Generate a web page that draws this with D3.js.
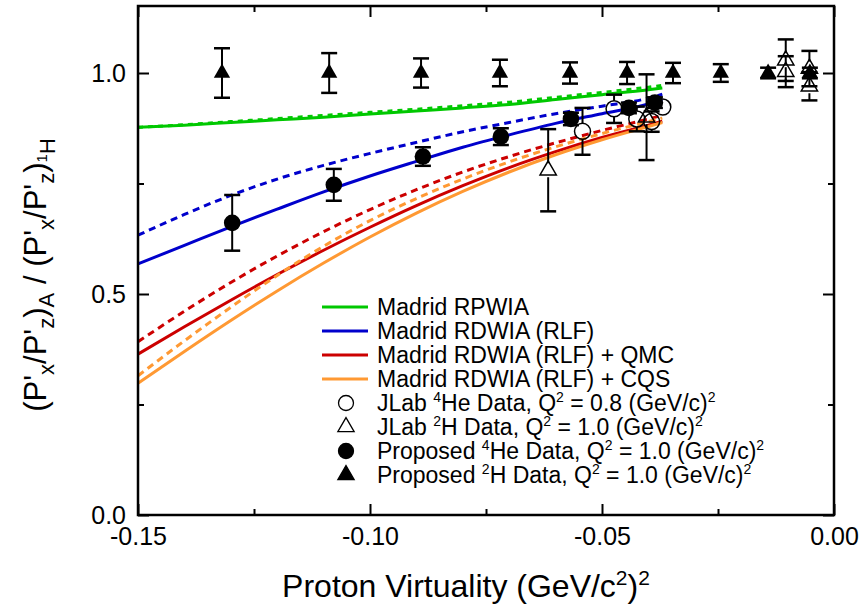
<!DOCTYPE html>
<html>
<head>
<meta charset="utf-8">
<script src="https://cdn.jsdelivr.net/npm/d3@7"></script>
<style>
  body { margin: 0; background: #fff; }
  text { font-family: "Liberation Sans", Arial, sans-serif; fill: #000; }
</style>
</head>
<body>
<svg id="chart" width="866" height="607"></svg>
<script>
// axis ticks
const xMajor = [-0.15, -0.10, -0.05, 0.00];
const xMinor = [-0.125, -0.075, -0.025];
const yMajor = [0.0, 0.5, 1.0];
const yMinor = [0.25, 0.75];

// model curves (shared x grid)
const curveX =       [-0.15, -0.14, -0.13, -0.12, -0.11, -0.10, -0.09, -0.08, -0.07, -0.06, -0.05, -0.04, -0.037];
const greenSolid =   [0.877, 0.882, 0.888, 0.894, 0.900, 0.907, 0.914, 0.921, 0.929, 0.940, 0.951, 0.962, 0.966];
const greenDashed =  [0.877, 0.883, 0.890, 0.897, 0.904, 0.911, 0.918, 0.926, 0.934, 0.945, 0.956, 0.968, 0.972];
const blueSolid =    [0.568, 0.610, 0.652, 0.692, 0.731, 0.767, 0.800, 0.832, 0.860, 0.886, 0.908, 0.930, 0.940];
const blueDashed =   [0.633, 0.680, 0.723, 0.760, 0.791, 0.818, 0.843, 0.867, 0.888, 0.908, 0.925, 0.943, 0.952];
const redSolid =     [0.364, 0.426, 0.486, 0.544, 0.599, 0.651, 0.700, 0.745, 0.786, 0.822, 0.854, 0.882, 0.891];
const redDashed =    [0.392, 0.461, 0.526, 0.586, 0.641, 0.691, 0.736, 0.776, 0.811, 0.842, 0.870, 0.896, 0.904];
const orangeSolid =  [0.298, 0.370, 0.440, 0.507, 0.570, 0.629, 0.683, 0.732, 0.776, 0.815, 0.849, 0.879, 0.888];
const orangeDashed = [0.315, 0.394, 0.470, 0.542, 0.608, 0.666, 0.716, 0.760, 0.799, 0.833, 0.863, 0.890, 0.898];

// JLab 4He (open circles)
const jlabHeX =   [-0.0542, -0.0474, -0.0425, -0.0393, -0.0369];
const jlabHeY =   [0.868, 0.919, 0.896, 0.890, 0.923];
const jlabHeErr = [0.053, 0.032, 0.028, 0.023, 0.018];

// JLab 2H (open triangles)
const jlabHX =   [-0.0616, -0.0404, -0.0104, -0.0104, -0.0053, -0.0053];
const jlabHY =   [0.780, 0.900, 1.029, 1.003, 1.010, 0.970];
const jlabHErr = [0.093, 0.097, 0.047, 0.035, 0.040, 0.032];

// proposed 4He (filled circles)
const propHeX =   [-0.1297, -0.1078, -0.0886, -0.0718, -0.0567, -0.0442, -0.0386];
const propHeY =   [0.661, 0.747, 0.811, 0.856, 0.896, 0.921, 0.933];
const propHeErr = [0.063, 0.036, 0.021, 0.019, 0.014, 0.012, 0.012];

// proposed 2H (filled triangles)
const propHX =   [-0.1319, -0.1088, -0.0890, -0.0720, -0.0569, -0.0446, -0.0347, -0.0244, -0.0142, -0.0052];
const propHY =   [1.0, 1.0, 1.0, 1.0, 1.0, 1.0, 1.0, 1.0, 1.0, 1.0];
const propHErr = [0.056, 0.045, 0.033, 0.030, 0.024, 0.025, 0.023, 0.020, 0.012, 0.012];

const legendNames = [
  "Madrid RPWIA",
  "Madrid RDWIA (RLF)",
  "Madrid RDWIA (RLF) + QMC",
  "Madrid RDWIA (RLF) + CQS"
];

// layout
const plotLeft = 138, plotRight = 834, plotTop = 6, plotBottom = 515;
const svg = d3.select("#chart");

const x = d3.scaleLinear().domain([-0.15, 0.0]).range([plotLeft, plotRight]);
const y = d3.scaleLinear().domain([0.0, 1.15]).range([plotBottom, plotBottom - 1.15 * 442]);

const green = "#00c800", blue = "#0000cc", red = "#cc0000", orange = "#ff9933";

// curves
const line = d3.line()
  .x(d => x(d[0]))
  .y(d => y(d[1]))
  .curve(d3.curveMonotoneX);

const curves = [
  { v: redSolid, c: red, dash: null },
  { v: redDashed, c: red, dash: "7,5" },
  { v: orangeDashed, c: orange, dash: "7,5" },
  { v: orangeSolid, c: orange, dash: null },
  { v: blueSolid, c: blue, dash: null },
  { v: blueDashed, c: blue, dash: "7,5" },
  { v: greenSolid, c: green, dash: null },
  { v: greenDashed, c: green, dash: "5,5" }
];

curves.forEach(function(cv) {
  svg.append("path")
    .datum(curveX.map((v, i) => [v, cv.v[i]]))
    .attr("d", line)
    .attr("fill", "none")
    .attr("stroke", cv.c)
    .attr("stroke-width", 3)
    .attr("stroke-dasharray", cv.dash);
});

// error bars, gap around the marker
function errorBars(xs, ys, es, r) {
  const g = svg.append("g").attr("stroke", "#000").attr("stroke-width", 2);
  xs.forEach(function(xv, i) {
    const cx = x(xv), cy = y(ys[i]);
    const hi = y(ys[i] + es[i]), lo = y(ys[i] - es[i]);
    if (cy - hi <= r) return;
    g.append("line").attr("x1", cx).attr("x2", cx).attr("y1", hi).attr("y2", cy - r);
    g.append("line").attr("x1", cx).attr("x2", cx).attr("y1", cy + r).attr("y2", lo);
    g.append("line").attr("x1", cx - 8).attr("x2", cx + 8).attr("y1", hi).attr("y2", hi).attr("stroke-width", 2.5);
    g.append("line").attr("x1", cx - 8).attr("x2", cx + 8).attr("y1", lo).attr("y2", lo).attr("stroke-width", 2.5);
  });
}

const tri = d3.symbol().type(d3.symbolTriangle).size(115);

errorBars(jlabHeX, jlabHeY, jlabHeErr, 8);
errorBars(jlabHX, jlabHY, jlabHErr, 7);
errorBars(propHeX, propHeY, propHeErr, 3);
errorBars(propHX, propHY, propHErr, 3);

svg.append("g").selectAll("circle")
  .data(jlabHeX).enter()
  .append("circle")
  .attr("cx", d => x(d))
  .attr("cy", (d, i) => y(jlabHeY[i]))
  .attr("r", 8)
  .attr("fill", "none")
  .attr("stroke", "#000")
  .attr("stroke-width", 1.5);

svg.append("g").selectAll("path")
  .data(jlabHX).enter()
  .append("path")
  .attr("d", tri)
  .attr("transform", (d, i) => "translate(" + x(d) + "," + y(jlabHY[i]) + ")")
  .attr("fill", "none")
  .attr("stroke", "#000")
  .attr("stroke-width", 1.5);

svg.append("g").selectAll("circle")
  .data(propHeX).enter()
  .append("circle")
  .attr("cx", d => x(d))
  .attr("cy", (d, i) => y(propHeY[i]))
  .attr("r", 8.3)
  .attr("fill", "#000");

svg.append("g").selectAll("path")
  .data(propHX).enter()
  .append("path")
  .attr("d", tri)
  .attr("transform", (d, i) => "translate(" + x(d) + "," + y(propHY[i]) + ")")
  .attr("fill", "#000");

// axes, ticks pointing inward on all four sides
function styleAxis(g) {
  g.select(".domain").remove();
  g.selectAll(".tick line").attr("stroke", "#000").attr("stroke-width", 2);
  g.selectAll("text").style("font-family", "'Liberation Sans', Arial, sans-serif").attr("font-size", 25).attr("fill", "#000");
}

svg.append("g").attr("transform", "translate(0," + plotBottom + ")")
  .call(d3.axisBottom(x).tickValues(xMajor).tickSize(-11).tickPadding(12).tickFormat(d => d.toFixed(2)))
  .call(styleAxis);
svg.append("g").attr("transform", "translate(0," + plotBottom + ")")
  .call(d3.axisBottom(x).tickValues(xMinor).tickSize(-6).tickFormat(""))
  .call(styleAxis);
svg.append("g").attr("transform", "translate(0," + plotTop + ")")
  .call(d3.axisTop(x).tickValues(xMajor).tickSize(-11).tickFormat(""))
  .call(styleAxis);
svg.append("g").attr("transform", "translate(0," + plotTop + ")")
  .call(d3.axisTop(x).tickValues(xMinor).tickSize(-6).tickFormat(""))
  .call(styleAxis);

svg.append("g").attr("transform", "translate(" + plotLeft + ",0)")
  .call(d3.axisLeft(y).tickValues(yMajor).tickSize(-11).tickPadding(12).tickFormat(d3.format(".1f")))
  .call(styleAxis);
svg.append("g").attr("transform", "translate(" + plotLeft + ",0)")
  .call(d3.axisLeft(y).tickValues(yMinor).tickSize(-6).tickFormat(""))
  .call(styleAxis);
svg.append("g").attr("transform", "translate(" + plotRight + ",0)")
  .call(d3.axisRight(y).tickValues(yMajor).tickSize(-11).tickFormat(""))
  .call(styleAxis);
svg.append("g").attr("transform", "translate(" + plotRight + ",0)")
  .call(d3.axisRight(y).tickValues(yMinor).tickSize(-6).tickFormat(""))
  .call(styleAxis);

// frame
svg.append("rect")
  .attr("x", plotLeft).attr("y", plotTop)
  .attr("width", plotRight - plotLeft).attr("height", plotBottom - plotTop)
  .attr("fill", "none")
  .attr("stroke", "#000")
  .attr("stroke-width", 2.5);

// rich text helper: parts = [text, size, dy]
function rich(sel, parts) {
  parts.forEach(function(p) {
    const t = sel.append("tspan").text(p[0]);
    if (p[1]) t.attr("font-size", p[1]);
    if (p[2]) t.attr("dy", p[2]);
  });
}

// x label
const xl = svg.append("text")
  .attr("x", 466).attr("y", 597)
  .attr("text-anchor", "middle")
  .attr("font-size", 32);
rich(xl, [
  ["Proton Virtuality (GeV/c"], ["2", 21, -12], [")", 0, 12], ["2", 21, -12]
]);

// y label
const yl = svg.append("text")
  .attr("transform", "translate(46,275) rotate(-90)")
  .attr("text-anchor", "middle")
  .attr("font-size", 31);
rich(yl, [
  ["(P'"], ["x", 22, 8], ["/P'", 0, -8], ["z", 22, 8], [")", 0, -8], ["A", 22, 8],
  [" / (P'", 0, -8], ["x", 22, 8], ["/P'", 0, -8], ["z", 22, 8], [")", 0, -8],
  ["1", 15, 1], ["H", 22, 8]
]);

// legend
const legX = 322, legText = 377, legY0 = 307, legStep = 24;
const legColors = [green, blue, red, orange];
legendNames.forEach(function(name, i) {
  const yy = legY0 + i * legStep;
  svg.append("line")
    .attr("x1", legX).attr("x2", legX + 46)
    .attr("y1", yy).attr("y2", yy)
    .attr("stroke", legColors[i]).attr("stroke-width", 3);
  svg.append("text")
    .attr("x", legText).attr("y", yy + 8)
    .attr("font-size", 23)
    .text(name);
});

const legPts = [
  { kind: "circle", fill: "none", parts: [["JLab "], ["4", 14, -9], ["He Data, Q", 0, 9], ["2", 14, -9], [" = 0.8 (GeV/c)", 0, 9], ["2", 14, -9]] },
  { kind: "tri", fill: "none", parts: [["JLab "], ["2", 14, -9], ["H Data, Q", 0, 9], ["2", 14, -9], [" = 1.0 (GeV/c)", 0, 9], ["2", 14, -9]] },
  { kind: "circle", fill: "#000", parts: [["Proposed "], ["4", 14, -9], ["He Data, Q", 0, 9], ["2", 14, -9], [" = 1.0 (GeV/c)", 0, 9], ["2", 14, -9]] },
  { kind: "tri", fill: "#000", parts: [["Proposed "], ["2", 14, -9], ["H Data, Q", 0, 9], ["2", 14, -9], [" = 1.0 (GeV/c)", 0, 9], ["2", 14, -9]] }
];

legPts.forEach(function(lp, i) {
  const yy = legY0 + (i + 4) * legStep;
  if (lp.kind === "circle") {
    svg.append("circle").attr("cx", 346).attr("cy", yy).attr("r", 7.5)
      .attr("fill", lp.fill).attr("stroke", "#000").attr("stroke-width", 1.3);
  } else {
    svg.append("path").attr("d", tri).attr("transform", "translate(346," + yy + ")")
      .attr("fill", lp.fill).attr("stroke", "#000").attr("stroke-width", 1.3);
  }
  const t = svg.append("text").attr("x", legText).attr("y", yy + 8).attr("font-size", 23);
  rich(t, lp.parts);
});
</script>
</body>
</html>
